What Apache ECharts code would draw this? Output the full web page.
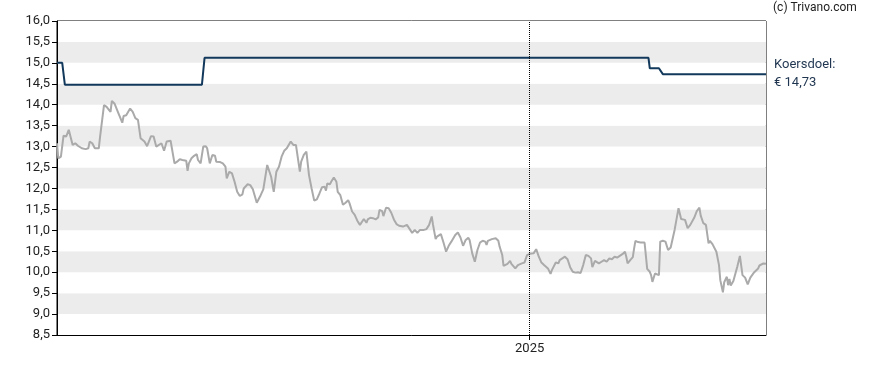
<!DOCTYPE html>
<html>
<head>
<meta charset="utf-8">
<script src="https://cdn.jsdelivr.net/npm/echarts@6/dist/echarts.min.js"></script>
<style>html,body{margin:0;padding:0;background:#fff}#c{width:888px;height:370px}</style>
</head>
<body>
<div id="c"></div>
<script>
const priceDates = [
'2024-01-05','2024-01-06','2024-01-08','2024-01-10','2024-01-12','2024-01-13','2024-01-14','2024-01-15','2024-01-17','2024-01-19',
'2024-01-21','2024-01-24','2024-01-27','2024-01-29','2024-01-30','2024-02-01','2024-02-03','2024-02-04','2024-02-06','2024-02-07',
'2024-02-10','2024-02-12','2024-02-15','2024-02-16','2024-02-18','2024-02-21','2024-02-24','2024-02-25','2024-02-27','2024-03-01',
'2024-03-03','2024-03-05','2024-03-07','2024-03-09','2024-03-12','2024-03-14','2024-03-17','2024-03-19','2024-03-21','2024-03-25',
'2024-03-26','2024-03-27','2024-03-29','2024-04-01','2024-04-02','2024-04-04','2024-04-06','2024-04-08','2024-04-10','2024-04-11',
'2024-04-13','2024-04-14','2024-04-15','2024-04-17','2024-04-19','2024-04-21','2024-04-22','2024-04-24','2024-04-26','2024-04-28',
'2024-04-29','2024-05-01','2024-05-03','2024-05-05','2024-05-06','2024-05-09','2024-05-11','2024-05-13','2024-05-14','2024-05-16',
'2024-05-18','2024-05-20','2024-05-22','2024-05-24','2024-05-26','2024-05-27','2024-05-30','2024-06-01','2024-06-03','2024-06-06',
'2024-06-09','2024-06-11','2024-06-12','2024-06-14','2024-06-15','2024-06-17','2024-06-19','2024-06-21','2024-06-23','2024-06-25',
'2024-06-27','2024-06-29','2024-07-02','2024-07-04','2024-07-06','2024-07-07','2024-07-09','2024-07-10','2024-07-12','2024-07-14',
'2024-07-15','2024-07-16','2024-07-18','2024-07-20','2024-07-22','2024-07-24','2024-07-26','2024-07-28','2024-07-29','2024-07-30',
'2024-08-01','2024-08-02','2024-08-04','2024-08-06','2024-08-07','2024-08-09','2024-08-10','2024-08-11','2024-08-13','2024-08-15',
'2024-08-16','2024-08-18','2024-08-20','2024-08-22','2024-08-24','2024-08-27','2024-08-29','2024-08-30','2024-09-01','2024-09-03',
'2024-09-05','2024-09-07','2024-09-08','2024-09-10','2024-09-11','2024-09-13','2024-09-15','2024-09-17','2024-09-19','2024-09-21',
'2024-09-23','2024-09-24','2024-09-26','2024-09-29','2024-09-30','2024-10-03','2024-10-05','2024-10-07','2024-10-09','2024-10-12',
'2024-10-14','2024-10-16','2024-10-18','2024-10-19','2024-10-21','2024-10-22','2024-10-25','2024-10-27','2024-10-29','2024-10-31',
'2024-11-02','2024-11-05','2024-11-07','2024-11-09','2024-11-11','2024-11-13','2024-11-15','2024-11-16','2024-11-18','2024-11-20',
'2024-11-22','2024-11-24','2024-11-26','2024-11-28','2024-11-29','2024-11-30','2024-12-03','2024-12-06','2024-12-08','2024-12-09',
'2024-12-11','2024-12-12','2024-12-15','2024-12-17','2024-12-18','2024-12-21','2024-12-23','2024-12-26','2024-12-28','2024-12-30',
'2025-01-01','2025-01-04','2025-01-06','2025-01-08','2025-01-10','2025-01-12','2025-01-15','2025-01-17','2025-01-18','2025-01-21',
'2025-01-23','2025-01-24','2025-01-28','2025-01-30','2025-02-01','2025-02-03','2025-02-05','2025-02-07','2025-02-09','2025-02-11',
'2025-02-13','2025-02-15','2025-02-17','2025-02-18','2025-02-20','2025-02-21','2025-02-23','2025-02-25','2025-02-27','2025-03-01',
'2025-03-03','2025-03-05','2025-03-07','2025-03-09','2025-03-11','2025-03-13','2025-03-15','2025-03-16','2025-03-17','2025-03-19',
'2025-03-21','2025-03-22','2025-03-23','2025-03-25','2025-03-27','2025-03-30','2025-04-01','2025-04-03','2025-04-04','2025-04-05',
'2025-04-07','2025-04-08','2025-04-10','2025-04-11','2025-04-13','2025-04-15','2025-04-17','2025-04-19','2025-04-20','2025-04-22',
'2025-04-25','2025-04-27','2025-04-28','2025-04-30','2025-05-02','2025-05-04','2025-05-07','2025-05-09','2025-05-11','2025-05-12',
'2025-05-14','2025-05-16','2025-05-18','2025-05-19','2025-05-21','2025-05-24','2025-05-26','2025-05-27','2025-05-29','2025-05-30',
'2025-06-01','2025-06-02','2025-06-03','2025-06-04','2025-06-06','2025-06-07','2025-06-09','2025-06-11','2025-06-13','2025-06-15',
'2025-06-17','2025-06-19','2025-06-22','2025-06-25','2025-06-26','2025-06-27','2025-06-29','2025-07-01'
];
const priceValues = [
13.08,12.72,12.76,13.26,13.24,13.22,13.40,13.40,13.04,13.08,
13.02,12.96,12.94,12.96,13.12,13.08,12.96,12.92,12.96,13.24,
13.99,13.95,13.83,14.09,14.03,13.80,13.57,13.73,13.75,13.91,
13.83,13.68,13.64,13.20,13.12,13.01,13.25,13.24,13.00,13.08,
13.10,12.90,13.12,13.14,13.12,12.60,12.64,12.70,12.68,12.72,
12.66,12.42,12.60,12.72,12.78,12.82,12.68,12.60,13.00,13.01,
12.96,12.60,12.80,12.78,12.64,12.63,12.60,12.52,12.24,12.40,
12.36,12.16,11.92,11.82,11.86,12.00,12.10,12.08,11.98,11.66,
11.84,11.98,12.00,12.56,12.60,12.28,11.92,12.40,12.52,12.76,
12.90,12.96,13.12,13.04,13.04,13.00,12.40,12.64,12.80,12.88,
12.60,12.32,12.00,11.71,11.74,11.88,12.03,12.04,11.95,12.12,
12.10,12.16,12.26,12.16,11.92,11.84,11.80,11.61,11.66,11.72,
11.65,11.45,11.37,11.23,11.13,11.27,11.18,11.26,11.30,11.29,
11.26,11.31,11.49,11.46,11.34,11.54,11.53,11.42,11.26,11.15,
11.11,11.14,11.09,11.13,11.17,10.94,11.01,10.94,11.01,11.01,
11.03,11.13,11.33,11.13,10.79,10.85,10.91,10.71,10.49,10.63,
10.73,10.89,10.95,10.83,10.63,10.77,10.82,10.77,10.45,10.25,
10.53,10.71,10.75,10.73,10.65,10.75,10.79,10.81,10.75,10.61,
10.41,10.15,10.20,10.27,10.20,10.09,10.17,10.21,10.23,10.41,
10.44,10.45,10.55,10.37,10.23,10.17,10.09,9.96,10.05,10.23,
10.21,10.29,10.37,10.31,10.12,10.01,9.99,10.00,9.98,10.17,
10.41,10.39,10.33,10.12,10.27,10.29,10.21,10.25,10.29,10.25,
10.33,10.31,10.37,10.35,10.39,10.43,10.49,10.37,10.21,10.29,
10.36,10.57,10.75,10.72,10.71,10.71,10.08,10.01,9.93,9.77,
9.97,10.00,9.93,10.73,10.75,10.73,10.53,10.59,10.59,11.01,
11.53,11.27,11.27,11.25,11.05,11.13,11.30,11.46,11.54,11.35,
11.17,11.13,10.69,10.75,10.67,10.49,10.17,9.81,9.52,9.76,
9.89,9.69,9.84,9.68,9.79,9.76,10.13,10.39,9.93,9.87,
9.71,9.87,10.00,10.09,10.16,10.13,10.21,10.20
];
const targetDates = ['2024-01-05','2024-01-09','2024-01-11','2024-04-25','2024-04-27','2025-04-02','2025-04-03','2025-04-10','2025-04-13','2025-07-01'];
const targetValues = [15.00,15.00,14.48,14.48,15.12,15.12,14.87,14.87,14.73,14.73];
const yTicks = [8.5,9.0,9.5,10.0,10.5,11.0,11.5,12.0,12.5,13.0,13.5,14.0,14.5,15.0,15.5,16.0];
const xTickDates = ['2025-01-01'];
const xTickLabels = ['2025'];
const xRange = ['2024-01-05','2025-07-01'];
const copyrightText = '(c) Trivano.com';
const targetLabel = 'Koersdoel:';
const targetText = '€ 14,73';

const chart = echarts.init(document.getElementById('c'), null, {renderer: 'canvas'});
const toTs = s => echarts.time.parse(s).getTime();
const fmt = v => v.toFixed(1).replace('.', ',');
const xTickTs = xTickDates.map(toTs);
const YEAR = 365 * 24 * 3600 * 1000;

chart.setOption({
  animation: false,
  textStyle: {fontFamily: 'Roboto'},
  grid: {left: 57, right: 122, top: 21, bottom: 35, show: true, borderColor: '#000', borderWidth: 1, backgroundColor: 'transparent'},
  xAxis: {
    type: 'time',
    min: toTs(xRange[0]),
    max: toTs(xRange[1]),
    minInterval: YEAR,
    axisLine: {show: true, lineStyle: {color: '#000', width: 1}},
    axisTick: {show: true, length: 5, lineStyle: {color: '#000'}},
    axisLabel: {
      show: true, color: '#222', fontSize: 13, fontFamily: 'Roboto', margin: 7,
      showMinLabel: false, showMaxLabel: false,
      formatter: function (v) {
        const i = xTickTs.indexOf(typeof v === 'number' ? v : +v);
        return i >= 0 ? xTickLabels[i] : '';
      }
    },
    splitLine: {show: false}
  },
  yAxis: {
    type: 'value',
    min: yTicks[0],
    max: yTicks[yTicks.length - 1],
    interval: yTicks[1] - yTicks[0],
    axisLine: {show: true, lineStyle: {color: '#000', width: 1}},
    axisTick: {show: true, length: 5, lineStyle: {color: '#000'}},
    axisLabel: {color: '#222', fontSize: 13, fontFamily: 'Roboto', margin: 7, formatter: fmt},
    splitLine: {show: false},
    splitArea: {show: true, areaStyle: {color: ['#ffffff', '#ececec']}}
  },
  series: [
    {
      type: 'line',
      data: priceDates.map((d, i) => [d, priceValues[i]]),
      showSymbol: false,
      lineStyle: {color: '#aaaaaa', width: 2},
      z: 2,
      markLine: {
        silent: true,
        symbol: ['none', 'none'],
        label: {show: false},
        lineStyle: {color: '#000', type: 'dotted', width: 1},
        data: xTickDates.map(d => ({xAxis: d}))
      }
    },
    {
      type: 'line',
      data: targetDates.map((d, i) => [d, targetValues[i]]),
      showSymbol: false,
      lineStyle: {color: '#12395b', width: 2},
      z: 3
    }
  ],
  graphic: [
    {type: 'text', left: 773, top: 2, style: {text: copyrightText, fill: '#222', font: '12px Roboto'}},
    {type: 'text', left: 774, top: 58, style: {text: targetLabel, fill: '#1f3550', font: '13px Roboto'}},
    {type: 'text', left: 774, top: 76, style: {text: targetText, fill: '#1f3550', font: '13px Roboto'}}
  ]
});
</script>
</body>
</html>
